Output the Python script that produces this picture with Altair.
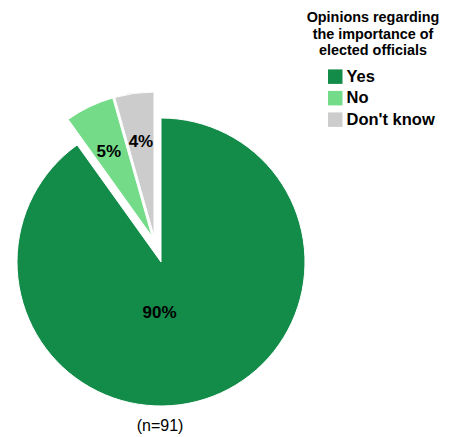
import altair as alt
import pandas as pd

categories = ["Yes", "No", "Don't know"]
counts = [82, 5, 4]
labels = ["90%", "5%", "4%"]
order = [0, 1, 2]
colors = ["#138b49", "#74dc88", "#cccccc"]
legend_title = ["Opinions regarding", "the importance of", "elected officials"]
note = "(n=91)"

df = pd.DataFrame({"category": categories, "count": counts, "label": labels, "order": order})

FONT = "Liberation Sans"
CX, CY, R = 153, 254, 144
explode = {"Yes": (0, 0), "No": (-9, -25.5), "Don't know": (-7, -26)}

theta_scale = alt.Scale(domain=[0, 91], range=[0, 6.283185307179586])
color = alt.Color(
    "category:N",
    scale=alt.Scale(domain=categories, range=colors),
    legend=alt.Legend(
        title=legend_title,
        orient="none",
        legendX=299,
        legendY=3,
        padding=0,
        titleFont=FONT,
        titleFontSize=14.4,
        titleFontWeight="bold",
        titleColor="black",
        titleLineHeight=16.5,
        titleAnchor="middle",
        titleAlign="center",
        titlePadding=10,
        labelFont=FONT,
        labelFontSize=16.5,
        labelFontWeight="bold",
        labelColor="black",
        labelOffset=3,
        symbolType="square",
        symbolSize=210,
        symbolStrokeWidth=0,
        symbolOffset=15,
        rowPadding=4.5,
    ),
)

base = (
    alt.Chart(df)
    .transform_window(cum="sum(count)", frame=[None, 0], sort=[alt.SortField("order")])
    .transform_calculate(start="datum.cum - datum.count", mid="datum.cum - datum.count / 2")
)

layers = []
for cat in categories:
    dx, dy = explode[cat]
    layers.append(
        base.transform_filter(alt.datum.category == cat)
        .mark_arc(radius=R, stroke="white", strokeWidth=1)
        .encode(
            theta=alt.Theta("start:Q", scale=theta_scale, stack=None),
            theta2="cum:Q",
            color=color,
            x=alt.value(CX + dx),
            y=alt.value(CY + dy),
        )
    )

label_pos = {"Yes": (51, -17, 2), "No": (95, -2, 1), "Don't know": (95, 0, 0)}
for cat in categories:
    dx, dy = explode[cat]
    r, tdx, tdy = label_pos[cat]
    layers.append(
        base.transform_filter(alt.datum.category == cat)
        .mark_text(radius=r, dx=tdx, dy=tdy, font=FONT, fontSize=17, fontWeight="bold", color="black")
        .encode(
            theta=alt.Theta("mid:Q", scale=theta_scale, stack=None),
            text="label:N",
            x=alt.value(CX + dx),
            y=alt.value(CY + dy),
        )
    )

note_layer = (
    alt.Chart(pd.DataFrame({"note": [note]}))
    .mark_text(font=FONT, fontSize=16, color="black")
    .encode(text="note:N", x=alt.value(152), y=alt.value(418))
)
layers.append(note_layer)

chart = (
    alt.layer(*layers)
    .properties(width=448, height=428, autosize=alt.AutoSizeParams(type="none"), padding=0)
    .configure_view(stroke=None)
)

chart.save("out.html", embed_options={"renderer": "svg", "actions": False})
